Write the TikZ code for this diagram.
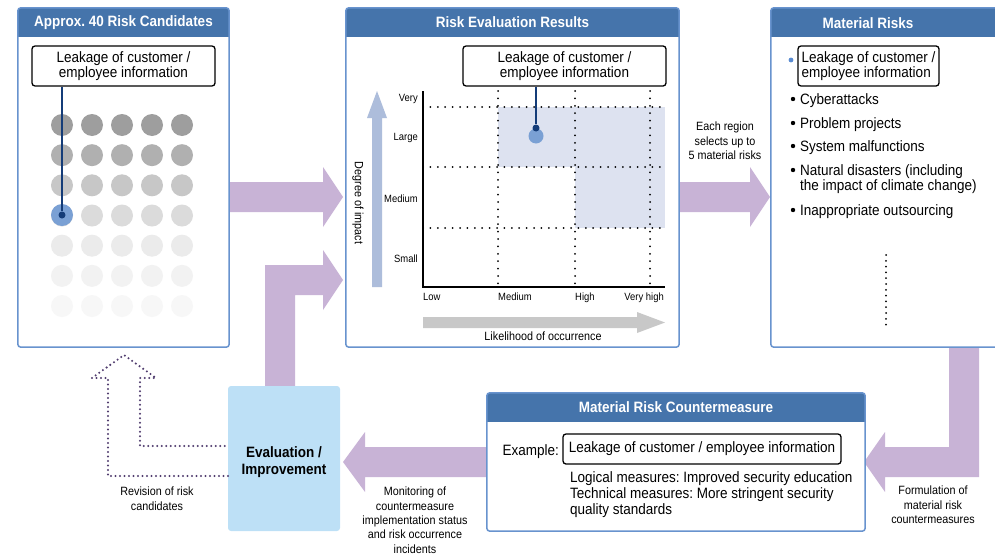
\documentclass[tikz,border=0pt]{standalone}
\usepackage{fontspec}
\setmainfont{Liberation Sans}[FakeStretch=0.9]
\usepackage{tikz}
\usetikzlibrary{positioning,calc}
\frenchspacing

\definecolor{headblue}{RGB}{69,116,171}
\definecolor{frameblue}{RGB}{104,147,206}
\definecolor{arrowpurple}{RGB}{200,179,214}
\definecolor{evalfill}{RGB}{189,224,246}
\definecolor{dotblue}{RGB}{122,160,212}
\definecolor{darkblue}{RGB}{20,60,120}
\definecolor{zonefill}{RGB}{221,226,240}
\definecolor{impactblue}{RGB}{173,189,219}
\definecolor{likegray}{RGB}{200,200,200}
\definecolor{revpurple}{RGB}{80,60,110}
\definecolor{bulletblue}{RGB}{90,140,210}

% header band + frame of a panel node
\newcommand\panelhead[2]{%
  \fill[headblue,rounded corners=3pt] (#1.north west) rectangle ([yshift=-29pt]#1.north east);
  \fill[headblue] ([yshift=-14pt]#1.north west) rectangle ([yshift=-29pt]#1.north east);
  \node[headtext] at ([yshift=-14.5pt]#1.north) {#2};
  \draw[frameblue,line width=1.5pt,rounded corners=3pt] (#1.north west) rectangle (#1.south east);}

\begin{document}
\begin{tikzpicture}[x=1pt,y=-1pt,
  panel/.style={fill=white,inner sep=0pt,minimum height=339pt},
  headtext/.style={text=white,inner sep=0pt,font=\fontsize{15}{17}\selectfont\bfseries},
  callout/.style={draw=black,line width=1.3pt,rounded corners=3pt,fill=white,inner sep=0pt,align=center,minimum height=40pt,font=\fontsize{15}{15.5}\selectfont},
  body/.style={inner sep=0pt,font=\fontsize{15}{16}\selectfont},
  note/.style={inner sep=0pt,align=center,font=\fontsize{12}{14.3}\selectfont},
  tick/.style={inner sep=0pt,font=\fontsize{10.5}{12}\selectfont},
  bigarrow/.style={fill=arrowpurple},
  gridline/.style={line width=2pt,line cap=round,dash pattern=on 0pt off 7.4pt},
  revline/.style={draw=revpurple,line width=2.3pt,line cap=round,dash pattern=on 0pt off 4.5pt},
  pin/.style={circle,fill=darkblue,minimum size=7pt,inner sep=0pt},
]
\useasboundingbox (0,0) rectangle (995,554);
\clip (0,0) rectangle (995,554);

% big purple arrows
\fill[bigarrow] (229,182) -- (323,182) -- (323,167) -- (343,197) -- (323,227) -- (323,212) -- (229,212) -- cycle;
\fill[bigarrow] (265,390) -- (265,265) -- (323,265) -- (323,250) -- (343,280) -- (323,310) -- (323,295) -- (295,295) -- (295,390) -- cycle;
\fill[bigarrow] (679,182) -- (750,182) -- (750,167) -- (770,197) -- (750,227) -- (750,212) -- (679,212) -- cycle;
\fill[bigarrow] (949,340) -- (979,340) -- (979,477) -- (885,477) -- (885,492) -- (864,462) -- (885,432) -- (885,447) -- (949,447) -- cycle;
\fill[bigarrow] (490,447) -- (365,447) -- (365,432) -- (343,462) -- (365,492) -- (365,477) -- (490,477) -- cycle;

% panels
\node[panel,minimum width=211pt] (cand) at (123.5,177.5) {};
\panelhead{cand}{Approx. 40 Risk Candidates}
\node[panel,minimum width=333pt] (evalres) at (512.5,177.5) {};
\panelhead{evalres}{Risk Evaluation Results}
\node[panel,minimum width=241pt] (matrisk) at (891.5,177.5) {};
\fill[headblue,rounded corners=3pt] (matrisk.north west) rectangle ([yshift=-29pt]matrisk.north east);
\fill[headblue] ([yshift=-14pt]matrisk.north west) rectangle ([yshift=-29pt]matrisk.north east);
\node[headtext] at (868,23) {Material Risks};
\draw[frameblue,line width=1.5pt,rounded corners=3pt] (matrisk.north west) rectangle (matrisk.south east);
\node[panel,minimum width=378pt,minimum height=138pt] (counter) at (676,462) {};
\panelhead{counter}{Material Risk Countermeasure}

% candidates
\foreach \g [count=\r from 0] in {38,31,22,14,8,5,3}
  \foreach \c in {0,...,4}
    \fill[black!\g] (62+30*\c,125+30.17*\r) circle (11);
\node[circle,fill=dotblue,minimum size=22pt,inner sep=0pt] (pick) at (62,215) {};
\node[pin] (pickpin) at (pick) {};
\node[callout,minimum width=183pt] (callA) at (123.5,66) {Leakage of customer /\\employee information};
\draw[darkblue,line width=1.5pt] (callA.south -| pickpin) -- (pickpin);

% evaluation chart
\fill[zonefill] (498,107) rectangle (665,167);
\fill[zonefill] (575,167) rectangle (665,228);
\foreach \x in {498,575,650}
  \draw[gridline] (\x,91) -- (\x,287);
\foreach \y in {107,167,228}
  \draw[gridline] (423,\y) -- (665,\y);
\draw[line width=1.3pt] (423,91) -- (423,287) -- (665,287);
\fill[impactblue] (372,287) -- (372,118) -- (367,118) -- (377,91) -- (387,118) -- (382,118) -- (382,287) -- cycle;
\fill[likegray] (423,317) -- (637,317) -- (637,312) -- (665,322.5) -- (637,333) -- (637,328) -- (423,328) -- cycle;
\node[tick,anchor=base east] at (418,101) {Very};
\node[tick,anchor=base east] at (418,140) {Large};
\node[tick,anchor=base east] at (418,202) {Medium};
\node[tick,anchor=base east] at (418,262) {Small};
\node[tick,anchor=base west] at (423,300) {Low};
\node[tick,anchor=base west] at (498,300) {Medium};
\node[tick,anchor=base west] at (575,300) {High};
\node[tick,anchor=base east] at (664,300) {Very high};
\node[note,anchor=base] at (543,340) {Likelihood of occurrence};
\node[note,rotate=-90] at (358,203) {Degree of impact};
\node[circle,fill=dotblue,minimum size=15pt,inner sep=0pt] (hit) at (536,136) {};
\node[pin] (hitpin) at (536,128) {};
\node[callout,minimum width=203pt] (callB) at (564.5,66) {Leakage of customer /\\employee information};
\draw[darkblue,line width=1.5pt] (callB.south -| hitpin) -- (hitpin);

\node[note,anchor=north] at (725,122) {Each region\\selects up to\\5 material risks};

% material risks
\node[callout,minimum width=141pt,align=left] (callC) at (868.5,66) {Leakage of customer /\\employee information};
\fill[bulletblue] (791,60) circle (2.4);
\foreach \y in {99,123,146,170,210}
  \fill (793,\y) circle (2.2);
\node[body,anchor=base west] at (800,104) {Cyberattacks};
\node[body,anchor=base west] at (800,128) {Problem projects};
\node[body,anchor=base west] at (800,151) {System malfunctions};
\node[body,anchor=base west] at (800,175) {Natural disasters (including};
\node[body,anchor=base west] at (800,190) {the impact of climate change)};
\node[body,anchor=base west] at (800,215) {Inappropriate outsourcing};
\draw[gridline,dash pattern=on 0pt off 5.8pt] (886,255) -- (886,325);
\node[note,anchor=north] at (933,486) {Formulation of\\material risk\\countermeasures};

% countermeasure
\node[body,anchor=base east] (ex) at (559,455) {Example:};
\node[callout,minimum width=278pt,minimum height=30pt] (callD) at (702,449) {Leakage of customer / employee information};
\node[body,anchor=north west,align=left] (measures) at (570,471) {Logical measures: Improved security education\\Technical measures: More stringent security\\quality standards};
\node[note,anchor=north] at (415,487) {Monitoring of\\countermeasure\\implementation status\\and risk occurrence\\incidents};

% evaluation / improvement
\node[fill=evalfill,rounded corners=3pt,minimum width=112pt,minimum height=145pt,inner sep=0pt] (evalimp) at (284,458.5) {};
\node[align=center,inner sep=0pt,font=\fontsize{15}{17}\selectfont\bfseries] at (284,462) {Evaluation /\\Improvement};
\draw[revline] (228,476) -- (108,476) -- (108,378) -- (92,378) -- (124,355) -- (156,378) -- (140,378) -- (140,446) -- (228,446);
\node[note,anchor=north] at (157,487) {Revision of risk\\candidates};
\end{tikzpicture}
\end{document}
